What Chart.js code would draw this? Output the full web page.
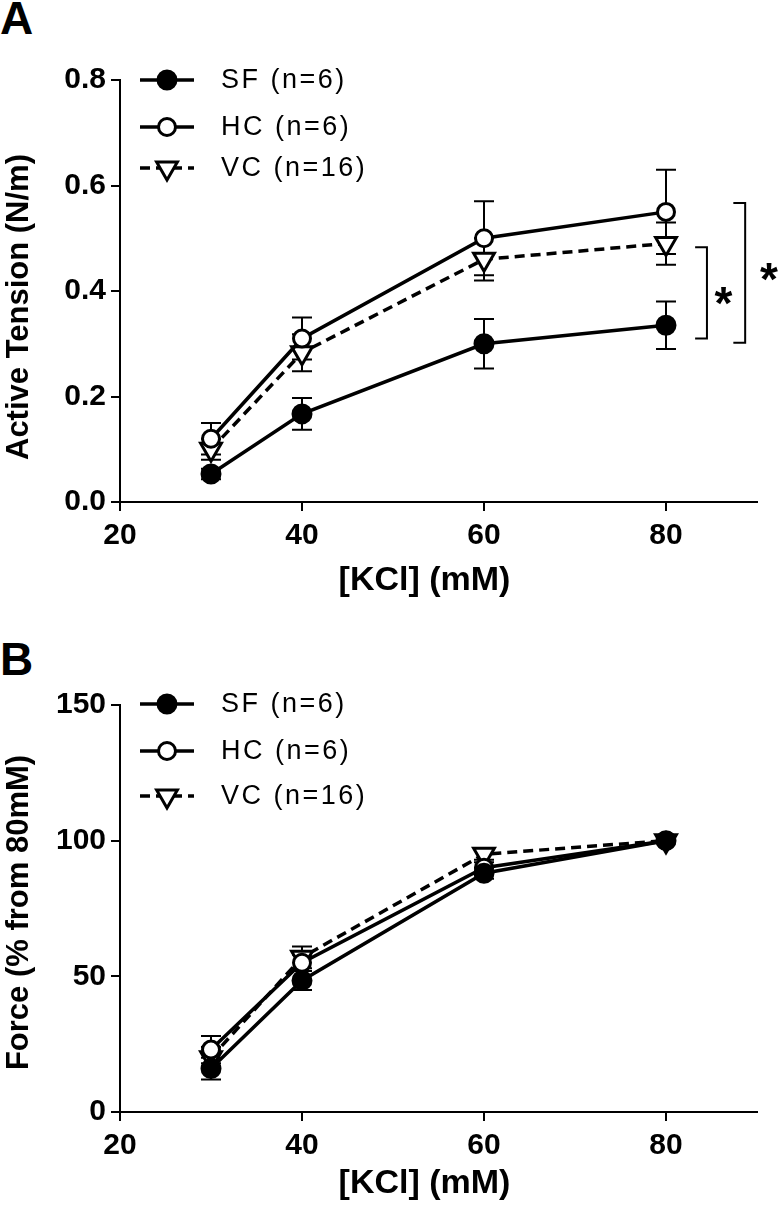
<!DOCTYPE html>
<html>
<head>
<meta charset="utf-8">
<script src="https://cdn.jsdelivr.net/npm/chart.js@4.4.1/dist/chart.umd.min.js"></script>
<style>
    body { margin: 0; background: #fff; width: 780px; height: 1206px; position: relative; overflow: hidden; font-family: "Liberation Sans", Arial, sans-serif; }
    .panel { position: absolute; left: 0; width: 780px; height: 603px; }
    .letter { position: absolute; left: 0; font-weight: bold; font-size: 46px; line-height: 1; color: #000; }
</style>
</head>
<body>
<div class="letter" style="top:-5px">A</div>
<div class="letter" style="top:636px">B</div>
<canvas id="tensionChart" class="panel" style="top:0" width="780" height="603"></canvas>
<canvas id="forceChart" class="panel" style="top:603px" width="780" height="603"></canvas>
<script>
// ================= DATA =================
const kcl = [30, 40, 60, 80];
const seriesNames = ["SF (n=6)", "HC (n=6)", "VC (n=16)"];

// panel A: active tension (N/m), mean and SEM
const sfTension = [0.053, 0.167, 0.300, 0.335];
const sfTensionErr = [0.010, 0.030, 0.047, 0.045];
const hcTension = [0.120, 0.310, 0.500, 0.550];
const hcTensionErr = [0.030, 0.040, 0.070, 0.080];
const vcTension = [0.100, 0.283, 0.460, 0.490];
const vcTensionErr = [0.020, 0.035, 0.040, 0.040];

// panel B: force as % of 80 mM response
const sfForce = [16, 48.5, 88, 100];
const sfForceErr = [4, 3.5, 2, 0];
const hcForce = [23, 55, 90, 100];
const hcForceErr = [5, 3, 2, 0];
const vcForce = [20, 57, 95, 100];
const vcForceErr = [4, 4, 2, 0];

const xTicks = [20, 40, 60, 80];
const tensionTicks = [0, 0.2, 0.4, 0.6, 0.8];
const forceTicks = [0, 50, 100, 150];

// significance brackets for panel A (data units)
const sigBrackets = [
    { x: 84.5, capX: 83.2, top: 0.483, bottom: 0.31, starX: 86.3, starY: 0.39 },
    { x: 88.7, capX: 87.4, top: 0.567, bottom: 0.302, starX: 91.3, starY: 0.435 }
];

// ================= STYLE =================
const FONT = "'Liberation Sans', Arial, sans-serif";
const markers = [
    { fill: "#000", style: "circle", radius: 9, rotation: 0, dash: [] },
    { fill: "#fff", style: "circle", radius: 8.5, rotation: 0, dash: [] },
    { fill: "#fff", style: "triangle", radius: 12, rotation: 180, dash: [10, 6] }
];

function makeDatasets(values, errors) {
    return values.map((vals, k) => ({
        label: seriesNames[k],
        data: kcl.map((x, i) => ({ x: x, y: vals[i] })),
        errors: errors[k],
        borderColor: "#000",
        borderWidth: 3.5,
        borderDash: markers[k].dash,
        pointStyle: markers[k].style,
        pointRadius: markers[k].radius,
        pointHoverRadius: markers[k].radius,
        pointRotation: markers[k].rotation,
        pointBackgroundColor: markers[k].fill,
        pointBorderColor: "#000",
        pointBorderWidth: 3,
        tension: 0,
        fill: false
    }));
}

function drawMarker(ctx, m, x, y) {
    ctx.save();
    ctx.setLineDash([]);
    ctx.lineWidth = 3;
    ctx.strokeStyle = "#000";
    ctx.fillStyle = m.fill;
    ctx.beginPath();
    if (m.style === "circle") {
        ctx.arc(x, y, m.radius, 0, Math.PI * 2);
    } else {
        const r = m.radius, s = Math.sin(Math.PI / 3) * r;
        ctx.moveTo(x, y + r);
        ctx.lineTo(x - s, y - r / 2);
        ctx.lineTo(x + s, y - r / 2);
        ctx.closePath();
    }
    ctx.fill();
    ctx.stroke();
    ctx.restore();
}

// error bars under lines and markers
const errorBars = {
    id: "errorBars",
    beforeDatasetsDraw(chart) {
        const ctx = chart.ctx, xs = chart.scales.x, ys = chart.scales.y;
        ctx.save();
        ctx.strokeStyle = "#000";
        ctx.lineWidth = 2;
        chart.data.datasets.forEach(ds => {
            ds.data.forEach((p, i) => {
                const e = ds.errors[i];
                if (!e) return;
                const x = xs.getPixelForValue(p.x);
                const y1 = ys.getPixelForValue(p.y + e);
                const y2 = ys.getPixelForValue(p.y - e);
                ctx.beginPath();
                ctx.moveTo(x, y1); ctx.lineTo(x, y2);
                ctx.moveTo(x - 10, y1); ctx.lineTo(x + 10, y1);
                ctx.moveTo(x - 10, y2); ctx.lineTo(x + 10, y2);
                ctx.stroke();
            });
        });
        ctx.restore();
    }
};

// legend drawn in the upper left of each panel
const insetLegend = {
    id: "insetLegend",
    afterDraw(chart, args, opts) {
        const ctx = chart.ctx;
        ctx.save();
        chart.data.datasets.forEach((ds, k) => {
            const y = opts.rows[k];
            ctx.strokeStyle = "#000";
            ctx.lineWidth = 3.5;
            ctx.setLineDash(markers[k].dash);
            ctx.beginPath();
            ctx.moveTo(opts.x0, y);
            ctx.lineTo(opts.x1, y);
            ctx.stroke();
            drawMarker(ctx, markers[k], (opts.x0 + opts.x1) / 2, y);
            ctx.fillStyle = "#000";
            ctx.font = "27px " + FONT;
            ctx.letterSpacing = "2.5px";
            ctx.textBaseline = "middle";
            ctx.textAlign = "left";
            ctx.fillText(ds.label, opts.textX, y + 1);
        });
        ctx.restore();
    }
};

// axis titles, placed like the original figure (a bit off the plot centre)
const axisTitles = {
    id: "axisTitles",
    afterDraw(chart, args, opts) {
        const ctx = chart.ctx, a = chart.chartArea;
        ctx.save();
        ctx.fillStyle = "#000";
        ctx.textAlign = "center";
        ctx.textBaseline = "middle";
        ctx.font = "bold 34px " + FONT;
        ctx.fillText(opts.x, (a.left + a.right) / 2 - 14, chart.height - 22);
        ctx.translate(19, (a.top + a.bottom) / 2 + opts.yShift);
        ctx.rotate(-Math.PI / 2);
        ctx.font = "bold 31px " + FONT;
        ctx.fillText(opts.y, 0, 0);
        ctx.restore();
    }
};

const brackets = {
    id: "brackets",
    afterDraw(chart, args, opts) {
        if (!opts.items) return;
        const ctx = chart.ctx, xs = chart.scales.x, ys = chart.scales.y;
        ctx.save();
        ctx.strokeStyle = "#000";
        ctx.lineWidth = 2;
        opts.items.forEach(b => {
            const x = xs.getPixelForValue(b.x), cx = xs.getPixelForValue(b.capX);
            const t = ys.getPixelForValue(b.top), bt = ys.getPixelForValue(b.bottom);
            ctx.beginPath();
            ctx.moveTo(cx, t); ctx.lineTo(x, t); ctx.lineTo(x, bt); ctx.lineTo(cx, bt);
            ctx.stroke();
            ctx.fillStyle = "#000";
            ctx.font = "bold 46px " + FONT;
            ctx.textAlign = "center";
            ctx.textBaseline = "middle";
            ctx.fillText("*", xs.getPixelForValue(b.starX), ys.getPixelForValue(b.starY) + 10);
        });
        ctx.restore();
    }
};

function axisGrid() {
    return {
        display: true, drawOnChartArea: false, drawTicks: true,
        tickLength: 9, tickWidth: 2, tickColor: "#000", color: "#000", lineWidth: 2
    };
}

function makeChart(id, values, errors, yTicks, yMax, yTitle, yShift, fmt, legendRows, sig) {
    return new Chart(document.getElementById(id), {
        type: "line",
        data: { datasets: makeDatasets(values, errors) },
        plugins: [errorBars, insetLegend, axisTitles, brackets],
        options: {
            responsive: false,
            animation: false,
            devicePixelRatio: 1,
            layout: { padding: { top: id === "tensionChart" ? 80 : 102, right: 23, left: 0, bottom: 0 } },
            plugins: {
                legend: { display: false },
                tooltip: { enabled: false },
                insetLegend: { rows: legendRows, x0: 140, x1: 194, textX: 221 },
                axisTitles: { x: "[KCl] (mM)", y: yTitle, yShift: yShift },
                brackets: { items: sig }
            },
            scales: {
                x: {
                    type: "linear", min: 20, max: 90,
                    afterBuildTicks: s => { s.ticks = xTicks.map(v => ({ value: v })); },
                    afterFit: s => { s.height = id === "tensionChart" ? 101 : 94; },
                    grid: axisGrid(),
                    border: { display: true, color: "#000", width: 2 },
                    ticks: { color: "#000", font: { family: FONT, size: 30, weight: "bold" }, padding: 7, maxRotation: 0, autoSkip: false }
                },
                y: {
                    type: "linear", min: 0, max: yMax,
                    afterBuildTicks: s => { s.ticks = yTicks.map(v => ({ value: v })); },
                    afterFit: s => { s.width = 120; },
                    grid: axisGrid(),
                    border: { display: true, color: "#000", width: 2 },
                    ticks: { color: "#000", font: { family: FONT, size: 30, weight: "bold" }, padding: 5, callback: fmt }
                }
            }
        }
    });
}

makeChart("tensionChart",
    [sfTension, hcTension, vcTension],
    [sfTensionErr, hcTensionErr, vcTensionErr],
    tensionTicks, 0.8, "Active Tension (N/m)", 16,
    v => Number(v).toFixed(1),
    [80, 127, 168], sigBrackets);

makeChart("forceChart",
    [sfForce, hcForce, vcForce],
    [sfForceErr, hcForceErr, vcForceErr],
    forceTicks, 150, "Force (% from 80mM)", 4,
    v => String(v),
    [101, 148, 193], null);
</script>
</body>
</html>
